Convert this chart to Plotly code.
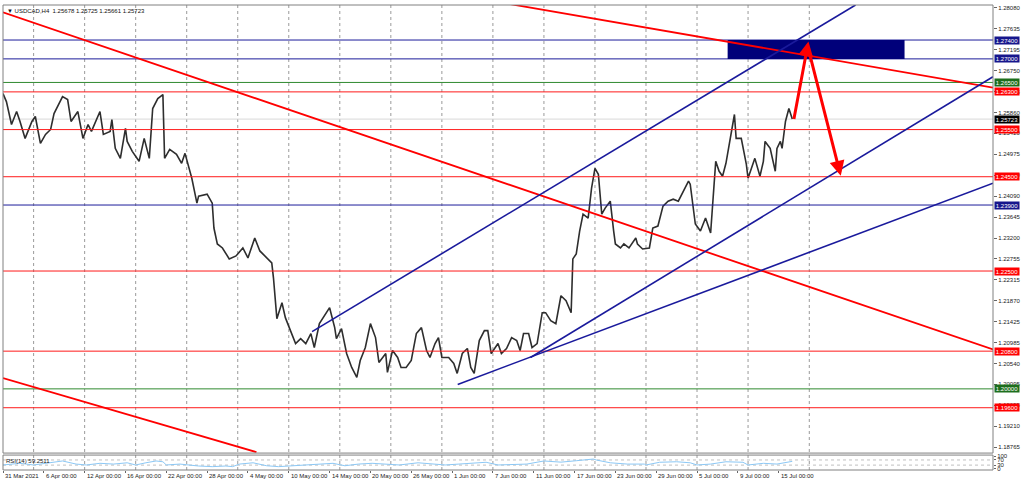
import plotly.graph_objects as go

# ---------------- data ----------------
# bar index (H4 bars, weekdays only, bar 0 = 31 Mar 2021 00:00) and close price
price_bar = [0, 2, 5, 8, 10, 13, 17, 19, 22, 25, 28, 30, 35, 38, 40, 44, 47, 50, 52, 57,
             59, 63, 64, 66, 69, 72, 73, 76, 80, 83, 86, 88, 91, 94, 95, 98, 102, 105, 107, 110,
             111, 114, 115, 120, 123, 124, 126, 129, 133, 137, 141, 144, 148, 151, 155, 158, 159, 161, 164, 166,
             169, 172, 175, 178, 181, 183, 186, 189, 192, 195, 196, 199, 202, 205, 208, 210, 213, 216, 219, 221,
             225, 226, 229, 232, 234, 237, 240, 243, 246, 249, 251, 254, 256, 258, 262, 265, 267, 270, 273, 275,
             277, 280, 283, 285, 287, 291, 293, 296, 299, 302, 304, 306, 309, 311, 314, 317, 319, 322, 325, 328,
             331, 334, 335, 337, 339, 341, 344, 346, 348, 350, 352, 354, 357, 359, 360, 363, 365, 368, 372, 373,
             376, 380, 382, 385, 388, 391, 394, 397, 400, 403, 404, 407, 410, 413, 416, 417, 419, 421, 423, 425,
             428, 430, 431, 434, 437, 438, 440, 442, 445, 447, 448, 451, 454, 455, 457, 458, 460, 462, 464]
price_close = [1.26263, 1.26094, 1.25608, 1.25883, 1.25672, 1.25313, 1.25672, 1.25778, 1.25207, 1.25397,
               1.25503, 1.25841, 1.26200, 1.26137, 1.25672, 1.25883, 1.25313, 1.25608, 1.25461, 1.25883,
               1.25397, 1.25461, 1.25714, 1.25102, 1.24890, 1.25524, 1.25249, 1.25038, 1.24827, 1.25313,
               1.24890, 1.25947, 1.26158, 1.26242, 1.24890, 1.25080, 1.24975, 1.24785, 1.24996, 1.24616,
               1.24468, 1.23940, 1.24088, 1.24130, 1.23940, 1.23412, 1.23074, 1.22989, 1.22757, 1.22820,
               1.22989, 1.22778, 1.23200, 1.22926, 1.22778, 1.22672, 1.22356, 1.21489, 1.21827, 1.21511,
               1.21236, 1.20961, 1.21067, 1.20961, 1.21173, 1.20877, 1.21384, 1.21553, 1.21722, 1.21299,
               1.21067, 1.21278, 1.20750, 1.20454, 1.20243, 1.20602, 1.20877, 1.21384, 1.21088, 1.20560,
               1.20750, 1.20349, 1.20813, 1.20666, 1.20454, 1.20454, 1.20602, 1.21173, 1.21299, 1.20813,
               1.20666, 1.20961, 1.21088, 1.20666, 1.20666, 1.20539, 1.20328, 1.20750, 1.20856, 1.20454,
               1.20328, 1.21025, 1.21236, 1.21236, 1.20750, 1.20961, 1.20750, 1.20856, 1.21088, 1.21025,
               1.20813, 1.21173, 1.21173, 1.20877, 1.20961, 1.21616, 1.21616, 1.21447, 1.21384, 1.21975,
               1.21870, 1.21616, 1.22757, 1.22863, 1.23348, 1.23707, 1.23623, 1.24257, 1.24679, 1.24552,
               1.23707, 1.23834, 1.23982, 1.23348, 1.23074, 1.22989, 1.23074, 1.22989, 1.23200, 1.23074,
               1.22968, 1.22989, 1.23412, 1.23454, 1.23876, 1.23982, 1.24024, 1.23982, 1.24193, 1.24405,
               1.24341, 1.23496, 1.23348, 1.23623, 1.23306, 1.23771, 1.24827, 1.24616, 1.24510, 1.24785,
               1.25461, 1.25820, 1.25313, 1.25313, 1.24764, 1.24468, 1.24679, 1.24890, 1.24510, 1.24827,
               1.25249, 1.25102, 1.24616, 1.25102, 1.25249, 1.25102, 1.25672, 1.25947, 1.25723]

rsi_bar = [0, 10, 18, 28, 35, 43, 49, 57, 65, 73, 78, 84, 90, 94, 96, 104, 108, 115, 123, 131,
           135, 139, 147, 155, 162, 170, 178, 186, 194, 201, 209, 217, 225, 233, 244, 252, 260, 268, 276, 284,
           291, 298, 308, 318, 328, 337, 347, 349, 357, 367, 377, 378, 386, 396, 404, 408, 416, 425, 435, 438,
           447, 455, 464]
rsi_val = [31, 44, 31, 48, 62, 38, 31, 44, 38, 48, 31, 48, 62, 56, 31, 38, 31, 23, 18, 23,
           18, 38, 48, 25, 18, 23, 31, 36, 44, 25, 38, 44, 38, 31, 48, 38, 31, 38, 44, 52,
           31, 36, 38, 62, 53, 64, 77, 69, 48, 38, 38, 31, 52, 56, 48, 31, 38, 56, 52, 31,
           44, 38, 59.2511]

# horizontal levels
level_price = [1.27400, 1.27000, 1.26500, 1.26300, 1.25500, 1.24500, 1.23900, 1.22500, 1.20800, 1.20000, 1.19600]
level_kind = ["blue", "blue", "green", "red", "red", "red", "blue", "red", "red", "green", "red"]
current_price = 1.25723

# trend lines: (bar0, price0, bar1, price1, kind)
trend_lines = [
    (0, 1.27988, 582, 1.20835, "red"),
    (290, 1.28213, 582, 1.26390, "red"),
    (0, 1.20229, 149, 1.18659, "red"),
    (181.7, 1.21215, 501.2, 1.28143, "blue"),
    (267.3, 1.20095, 582, 1.24362, "blue"),
    (310.1, 1.20666, 582, 1.26622, "blue"),
]
# zone rectangle
zone = (426, 1.27000, 530, 1.27400)
# arrows: (tail bar, tail price, head bar, head price)
arrows = [(464.8, 1.25693, 473.5, 1.27370), (473.6, 1.27193, 492.5, 1.24520)]

price_ticks = [1.28080, 1.27635, 1.27195, 1.26750, 1.26305, 1.25860, 1.25420, 1.24975, 1.24530,
               1.24090, 1.23645, 1.23200, 1.22755, 1.22315, 1.21870, 1.21425, 1.20985, 1.20540,
               1.20095, 1.19655, 1.19210, 1.18765]
date_labels = ["31 Mar 2021", "6 Apr 00:00", "12 Apr 00:00", "16 Apr 00:00", "22 Apr 00:00",
               "28 Apr 00:00", "4 May 00:00", "10 May 00:00", "14 May 00:00", "20 May 00:00",
               "26 May 00:00", "1 Jun 00:00", "7 Jun 00:00", "11 Jun 00:00", "17 Jun 00:00",
               "23 Jun 00:00", "29 Jun 00:00", "5 Jul 00:00", "9 Jul 00:00", "15 Jul 00:00"]
date_bars = [0, 24, 48, 72, 96, 120, 144, 168, 192, 216, 240, 264, 288, 312, 336, 360, 384, 408, 432, 456]
week_bars = [18, 48, 78, 108, 138, 168, 198, 228, 258, 288, 318, 348, 378, 408, 438, 474]

# ---------------- styling ----------------
COL = {"red": "#ff1a1a", "blue": "#1c1c9a", "green": "#2f8a2f"}
LINE_COL = {"red": "#ff0000", "blue": "#1a1a9c", "green": "#2f8a2f"}
BOX_COL = {"red": "#ff0000", "blue": "#16168c", "green": "#1d6e1d"}
FONT = "Liberation Sans"
FS = 6

W, H = 1024, 480
ML, MR, MT, MB = 3, 28, 3, 10
plot_h = H - MT - MB
main_bottom_px, rsi_top_px = 453, 455
main_dom = [(H - MB - main_bottom_px) / plot_h, 1]
rsi_dom = [0, (H - MB - rsi_top_px) / plot_h]

fig = go.Figure()

fig.add_trace(go.Scatter(x=price_bar, y=price_close, mode="lines",
                         line=dict(color="#2e2e2e", width=1.6), yaxis="y", xaxis="x",
                         showlegend=False, hoverinfo="skip"))
fig.add_trace(go.Scatter(x=rsi_bar, y=rsi_val, mode="lines",
                         line=dict(color="#8cc8f5", width=1), yaxis="y2", xaxis="x",
                         showlegend=False, hoverinfo="skip"))

shapes = []
# weekly dotted grid
for b in week_bars:
    shapes.append(dict(type="line", xref="x", yref="paper", x0=b, x1=b, y0=0, y1=1,
                       line=dict(color="#9a9a9a", width=1, dash="dot"), layer="below"))
# RSI levels
for lv in (70, 30):
    shapes.append(dict(type="line", xref="paper", yref="y2", x0=0, x1=1, y0=lv, y1=lv,
                       line=dict(color="#c0c0c0", width=1, dash="dot"), layer="below"))
# current price line
shapes.append(dict(type="line", xref="paper", yref="y", x0=0, x1=1, y0=current_price, y1=current_price,
                   line=dict(color="#d8d8d8", width=1), layer="below"))
# horizontal levels
for p, k in zip(level_price, level_kind):
    shapes.append(dict(type="line", xref="paper", yref="y", x0=0, x1=1, y0=p, y1=p,
                       line=dict(color=COL[k], width=1)))
# zone
shapes.append(dict(type="rect", xref="x", yref="y", x0=zone[0], x1=zone[2], y0=zone[1], y1=zone[3],
                   fillcolor="#00007a", line=dict(width=0)))
# trend lines
for b0, p0, b1, p1, k in trend_lines:
    shapes.append(dict(type="line", xref="x", yref="y", x0=b0, y0=p0, x1=b1, y1=p1,
                       line=dict(color=LINE_COL[k], width=1.8 if k == "red" else 1.6)))
# panel frames
shapes.append(dict(type="rect", xref="paper", yref="paper", x0=0, x1=1, y0=main_dom[0], y1=1,
                   line=dict(color="#808080", width=1)))
shapes.append(dict(type="rect", xref="paper", yref="paper", x0=0, x1=1, y0=0, y1=rsi_dom[1],
                   line=dict(color="#808080", width=1)))

annotations = []
# arrows
for tb, tp, hb, hp in arrows:
    annotations.append(dict(x=hb, y=hp, ax=tb, ay=tp, xref="x", yref="y", axref="x", ayref="y",
                            showarrow=True, arrowhead=2, arrowsize=1, arrowwidth=3,
                            arrowcolor="#ff0000", text=""))
# price boxes on the axis
for p, k in zip(level_price, level_kind):
    annotations.append(dict(x=1, y=p, xref="paper", yref="y", xanchor="left", xshift=1,
                            text=f"{p:.5f}", showarrow=False, bgcolor=BOX_COL[k],
                            font=dict(family=FONT, size=FS, color="white"),
                            width=24, height=7, borderpad=0))
annotations.append(dict(x=1, y=current_price, xref="paper", yref="y", xanchor="left", xshift=1,
                        text=f"{current_price:.5f}", showarrow=False, bgcolor="#000000",
                        font=dict(family=FONT, size=FS, color="white"),
                        width=24, height=7, borderpad=0))
# date labels
for b, t in zip(date_bars, date_labels):
    annotations.append(dict(x=b, y=0, xref="x", yref="paper", xanchor="left", yanchor="top",
                            yshift=-1, text=t, showarrow=False,
                            font=dict(family=FONT, size=FS, color="#222222")))
# header and indicator label
annotations.append(dict(x=0, y=1, xref="paper", yref="paper", xanchor="left", yanchor="top",
                        xshift=2, yshift=-1,
                        text="▼ USDCAD,H4  1.25678 1.25725 1.25661 1.25723", showarrow=False,
                        font=dict(family=FONT, size=FS, color="#111111")))
annotations.append(dict(x=0, y=rsi_dom[1], xref="paper", yref="paper", xanchor="left", yanchor="top",
                        xshift=1, yshift=-1, text="RSI(14) 59.2511", showarrow=False,
                        font=dict(family=FONT, size=FS, color="#222222")))

fig.update_layout(
    width=W, height=H, margin=dict(l=ML, r=MR, t=MT, b=MB),
    paper_bgcolor="white", plot_bgcolor="white",
    shapes=shapes, annotations=annotations,
    xaxis=dict(range=[0, 582], anchor="y2", showgrid=False, zeroline=False,
               tickvals=date_bars, showticklabels=False, ticks="outside", ticklen=2,
               tickcolor="#666666", showline=False),
    yaxis=dict(domain=main_dom, range=[1.18638, 1.28143], side="right", anchor="x",
               tickvals=price_ticks, ticktext=[f"{v:.5f}" for v in price_ticks],
               ticks="outside", ticklen=3, tickcolor="#666666",
               tickfont=dict(family=FONT, size=FS, color="#222222"),
               showgrid=False, zeroline=False, showline=False),
    yaxis2=dict(domain=rsi_dom, range=[-8, 108], side="right", anchor="x",
                tickvals=[100, 70, 30, 0], ticks="outside", ticklen=2, tickcolor="#666666",
                tickfont=dict(family=FONT, size=FS, color="#222222"),
                showgrid=False, zeroline=False, showline=False),
)

fig.write_html("out.html", config={"displayModeBar": False},
               post_script="document.body.style.margin='0';document.body.style.overflow='hidden';")
